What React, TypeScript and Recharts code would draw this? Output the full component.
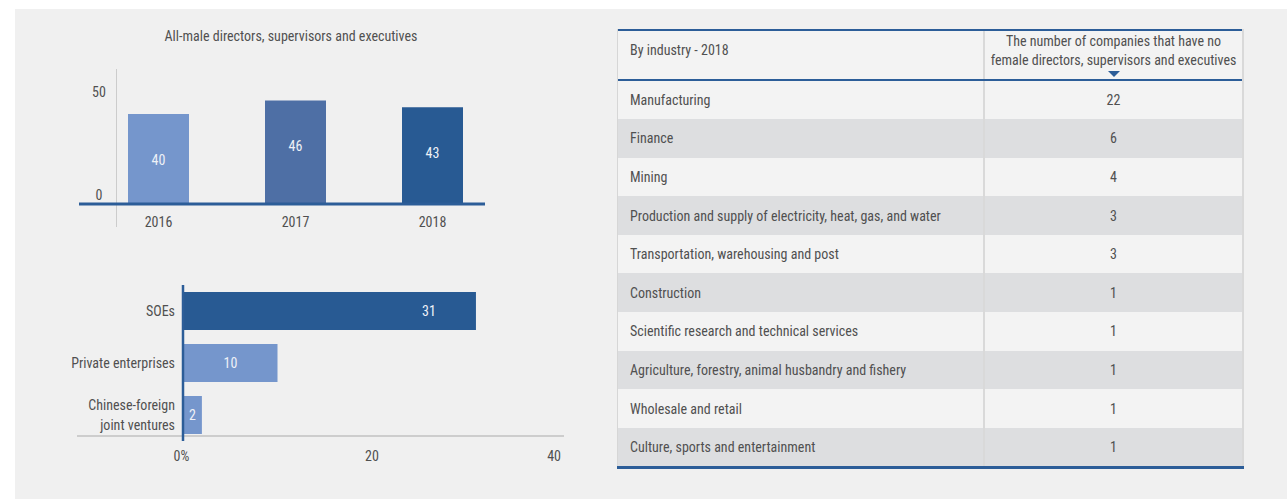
import React from 'react';
import { BarChart, Bar, XAxis, YAxis, LabelList, Cell } from 'recharts';

// ---------- data ----------
const chartTitle = 'All-male directors, supervisors and executives';
const years = ['2016', '2017', '2018'];
const allMaleCounts = [40, 46, 43];
const yearColors = ['#7596cc', '#4e6fa5', '#285a93'];
const yearTicks = [0, 50];

const ownershipTypes = ['SOEs', 'Private enterprises', 'Chinese-foreign\njoint ventures'];
const ownershipCounts = [31, 10, 2];
const ownershipColors = ['#285a93', '#7596cc', '#7596cc'];
const ownershipTicks = [0, 20, 40];

const tableHeaderLeft = 'By industry - 2018';
const tableHeaderRight = ['The number of companies that have no', 'female directors, supervisors and executives'];
const industries = [
  'Manufacturing',
  'Finance',
  'Mining',
  'Production and supply of electricity, heat, gas, and water',
  'Transportation, warehousing and post',
  'Construction',
  'Scientific research and technical services',
  'Agriculture, forestry, animal husbandry and fishery',
  'Wholesale and retail',
  'Culture, sports and entertainment',
];
const industryCounts = [22, 6, 4, 3, 3, 1, 1, 1, 1, 1];

// ---------- style ----------
const FONT = "'Liberation Sans Narrow', 'Arial Narrow', 'Roboto Condensed', sans-serif";
const TEXT = '#505050';
const BLUE = '#2c5d98';
const LABEL = '#eef1f7';

const yearData = years.map((y, i) => ({ year: y, value: allMaleCounts[i] }));
const ownershipData = ownershipTypes.map((t, i) => ({ type: t, value: ownershipCounts[i] }));

const YearTick = (props: any) => (
  <text x={props.x} y={222} textAnchor="middle" dominantBaseline="central" fill={TEXT} fontSize={14} fontFamily={FONT}>
    {props.payload.value}
  </text>
);

const ValueTick = (props: any) => (
  <text x={99} y={props.y - (props.payload.value === 0 ? 9 : 0)} textAnchor="middle" dominantBaseline="central" fill={TEXT} fontSize={14} fontFamily={FONT}>
    {props.payload.value}
  </text>
);

const TopLabel = (props: any) => (
  <text x={props.x + props.width / 2} y={props.y + 45.5} textAnchor="middle" dominantBaseline="central" fill={LABEL} fontSize={14} fontFamily={FONT}>
    {props.value}
  </text>
);

const PctTick = (props: any) => {
  const v = props.payload.value;
  const last = v === ownershipTicks[ownershipTicks.length - 1];
  return (
    <text x={v === 0 ? props.x - 1.5 : props.x} y={196} textAnchor={last ? 'end' : 'middle'} dominantBaseline="central" fill={TEXT} fontSize={14} fontFamily={FONT}>
      {v === 0 ? '0%' : v}
    </text>
  );
};

const CatTick = (props: any) => {
  const lines = String(props.payload.value).split('\n');
  const lh = 20;
  const start = props.y - ((lines.length - 1) * lh) / 2;
  return (
    <text textAnchor="end" fill={TEXT} fontSize={14} fontFamily={FONT}>
      {lines.map((l, i) => (
        <tspan key={i} x={175} y={start + i * lh} dominantBaseline="central">
          {l}
        </tspan>
      ))}
    </text>
  );
};

const SideLabel = (props: any) => {
  const end = props.x + props.width;
  const cx = Math.max(end - 47, props.x + props.width / 2);
  return (
    <text x={cx} y={props.y + props.height / 2} textAnchor="middle" dominantBaseline="central" fill={LABEL} fontSize={14} fontFamily={FONT}>
      {props.value}
    </text>
  );
};

const ROW_H = 38.6;

const IndustryTable = () => (
  <div
    style={{
      position: 'absolute',
      left: 617,
      top: 28.5,
      width: 627,
      fontFamily: FONT,
      color: TEXT,
      fontSize: 14,
      boxSizing: 'border-box',
      borderLeft: '1px solid #d6d6d6',
      borderRight: '2px solid #d9d9d9',
    }}
  >
    <div
      style={{
        display: 'flex',
        height: 52,
        boxSizing: 'border-box',
        borderTop: `2px solid ${BLUE}`,
        borderBottom: `2px solid ${BLUE}`,
        background: '#f3f3f3',
      }}
    >
      <div style={{ width: 365, boxSizing: 'border-box', paddingLeft: 12, paddingTop: 11 }}>{tableHeaderLeft}</div>
      <div
        style={{
          flex: 1,
          borderLeft: '2px solid #d9d9d9',
          position: 'relative',
          textAlign: 'center',
          fontSize: 14,
          lineHeight: '19px',
          paddingTop: 1,
        }}
      >
        {tableHeaderRight.map((l, i) => (
          <div key={i}>{l}</div>
        ))}
        <div
          style={{
            position: 'absolute',
            left: '50%',
            marginLeft: -6,
            top: 40,
            width: 0,
            height: 0,
            borderLeft: '6px solid transparent',
            borderRight: '6px solid transparent',
            borderTop: `6px solid ${BLUE}`,
          }}
        />
      </div>
    </div>
    {industries.map((name, i) => (
      <div
        key={name}
        style={{
          display: 'flex',
          height: ROW_H,
          alignItems: 'center',
          background: i % 2 === 0 ? '#f3f3f3' : '#dddee0',
        }}
      >
        <div style={{ width: 365, paddingLeft: 12, boxSizing: 'border-box' }}>{name}</div>
        <div
          style={{
            flex: 1,
            height: '100%',
            borderLeft: '2px solid #d9d9d9',
            display: 'flex',
            alignItems: 'center',
            justifyContent: 'center',
          }}
        >
          {industryCounts[i]}
        </div>
      </div>
    ))}
    <div style={{ height: 3, background: BLUE, marginLeft: -1, marginRight: -2 }} />
  </div>
);

export default function App() {
  return (
    <div style={{ position: 'absolute', left: 0, top: 0, width: 1287, height: 499, background: '#ffffff', overflow: 'hidden' }}>
      <div style={{ position: 'absolute', left: 15, top: 9, width: 1272, height: 490, background: '#f0f0f0' }} />

      <div
        style={{
          position: 'absolute',
          left: 91,
          top: 28,
          width: 400,
          textAlign: 'center',
          fontFamily: FONT,
          fontSize: 14,
          color: TEXT,
        }}
      >
        {chartTitle}
      </div>

      <div style={{ position: 'absolute', left: 115.5, top: 69, width: 1, height: 158, background: '#cccccc' }} />

      <div style={{ position: 'absolute', left: 0, top: 0 }}>
        <BarChart width={520} height={240} data={yearData} margin={{ top: 91.5, right: 35, bottom: 6, left: 39 }}>
          <XAxis
            dataKey="year"
            height={30}
            interval={0}
            tickLine={false}
            axisLine={{ stroke: BLUE, strokeWidth: 3 }}
            padding={{ left: 11, right: -16 }}
            tick={<YearTick />}
          />
          <YAxis domain={[0, 50]} ticks={yearTicks} width={40} axisLine={false} tickLine={false} tick={<ValueTick />} />
          <Bar dataKey="value" barSize={61} isAnimationActive={false}>
            {yearData.map((d, i) => (
              <Cell key={d.year} fill={yearColors[i]} />
            ))}
            <LabelList dataKey="value" content={<TopLabel />} />
          </Bar>
        </BarChart>
      </div>

      <div style={{ position: 'absolute', left: 77, top: 435, width: 487, height: 2, background: '#cdcdcd' }} />

      <div style={{ position: 'absolute', left: 0, top: 260 }}>
        <BarChart layout="vertical" width={600} height={220} data={ownershipData} margin={{ top: 25, right: 39, bottom: 9, left: 83 }}>
          <XAxis type="number" domain={[0, 40]} ticks={ownershipTicks} height={30} axisLine={false} tickLine={false} tick={<PctTick />} />
          <YAxis
            type="category"
            dataKey="type"
            width={100}
            interval={0}
            axisLine={{ stroke: BLUE, strokeWidth: 2.5 }}
            tickLine={false}
            tick={<CatTick />}
          />
          <Bar dataKey="value" barSize={38} isAnimationActive={false}>
            {ownershipData.map((d, i) => (
              <Cell key={d.type} fill={ownershipColors[i]} />
            ))}
            <LabelList dataKey="value" content={<SideLabel />} />
          </Bar>
        </BarChart>
      </div>

      <IndustryTable />
    </div>
  );
}
